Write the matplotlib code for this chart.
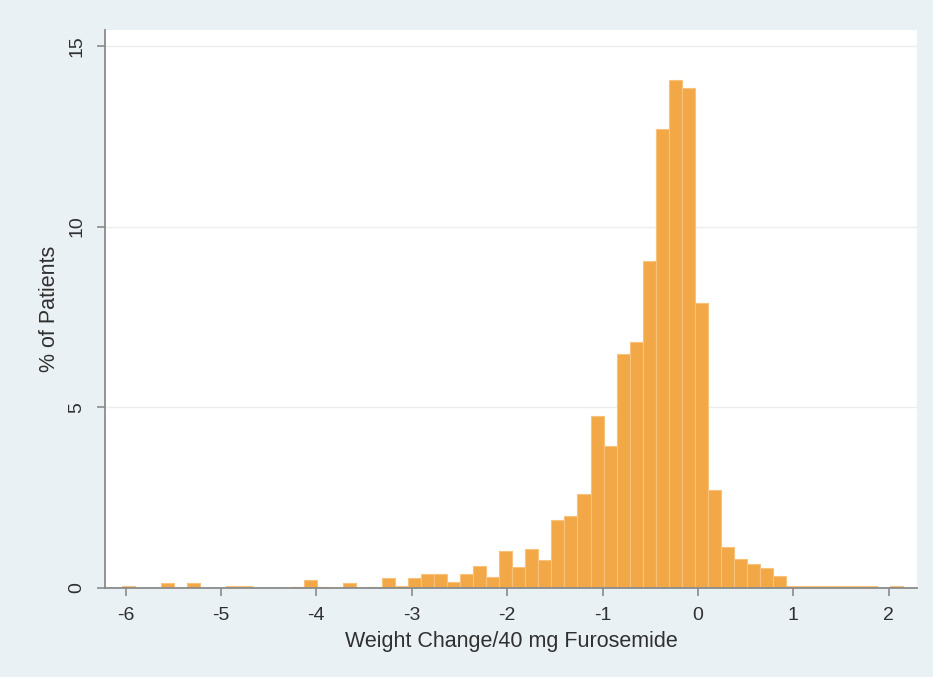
import matplotlib
matplotlib.use("Agg")
import matplotlib.pyplot as plt
import numpy as np

# histogram of weight change per 40 mg furosemide (percent of patients per bin)
bin_start = -6.04
bin_width = 0.1365
pct_patients = [
    0.06, 0.0, 0.0, 0.13, 0.0, 0.13, 0.0, 0.0, 0.06, 0.06,
    0.0, 0.0, 0.0, 0.03, 0.22, 0.03, 0.0, 0.13, 0.0, 0.03,
    0.28, 0.06, 0.28, 0.39, 0.39, 0.16, 0.39, 0.62, 0.31, 1.03,
    0.57, 1.08, 0.78, 1.88, 2.0, 2.6, 4.77, 3.94, 6.48, 6.8,
    9.05, 12.71, 14.05, 13.84, 7.89, 2.72, 1.13, 0.8, 0.66, 0.55,
    0.32, 0.06, 0.05, 0.05, 0.05, 0.05, 0.05, 0.05, 0.0, 0.06,
]
x_ticks = [-6, -5, -4, -3, -2, -1, 0, 1, 2]
y_ticks = [0, 5, 10, 15]

plt.rcParams['font.family'] = ['Liberation Sans', 'DejaVu Sans']

bg = '#eaf1f4'
text_col = '#303030'
axis_col = '#8a8a8a'

fig = plt.figure(figsize=(9.33, 6.77), dpi=100, facecolor=bg)
ax = fig.add_axes([0.1125, 0.1315, 0.8703, 0.8242])
ax.set_facecolor('white')

edges = bin_start + bin_width * np.arange(len(pct_patients))
ax.bar(edges, pct_patients, width=bin_width, align='edge',
       color='#f2a847', edgecolor='#f8c27a', linewidth=0.8, zorder=2)

ax.set_xlim(-6.216, 2.296)
ax.set_ylim(0, 15.44)

ax.set_yticks(y_ticks)
ax.set_xticks(x_ticks)
ax.set_yticklabels([str(v) for v in y_ticks], rotation=90, va='center')
ax.set_xticklabels([str(v) for v in x_ticks])

ax.grid(axis='y', color='#ececec', linewidth=1.0, zorder=0)
ax.set_axisbelow(True)

for side in ['top', 'right']:
    ax.spines[side].set_visible(False)
for side in ['left', 'bottom']:
    ax.spines[side].set_color(axis_col)
    ax.spines[side].set_linewidth(1.3)
    ax.spines[side].set_zorder(3)

ax.tick_params(axis='both', colors=axis_col, length=6, width=1.2,
               labelcolor=text_col, labelsize=14, pad=8)

ax.set_xlabel('Weight Change/40 mg Furosemide', fontsize=15.5, color=text_col, labelpad=5)
ax.set_ylabel('% of Patients', fontsize=15.5, color=text_col, labelpad=6)

fig.savefig('out.png', dpi=100, facecolor=bg)
